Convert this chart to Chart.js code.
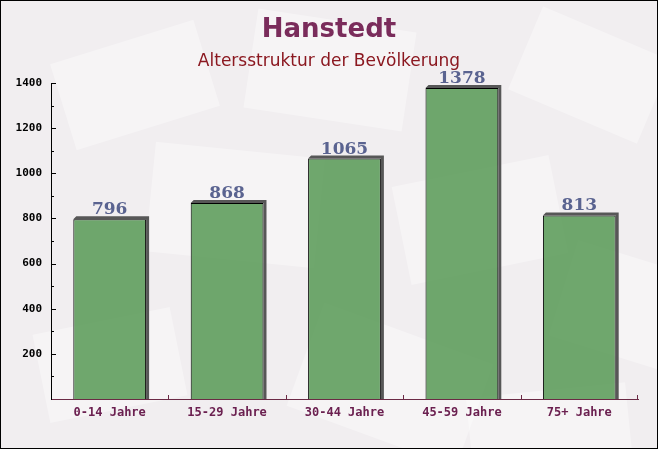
<!DOCTYPE html>
<html>
<head>
<meta charset="utf-8">
<script src="https://cdn.jsdelivr.net/npm/chart.js@4/dist/chart.umd.min.js"></script>
<style>
  html, body { margin: 0; padding: 0; background: #f2eff1; }
  #wrap { width: 658px; height: 449px; }
</style>
</head>
<body>
<div id="wrap"><canvas id="ageChart" width="658" height="449"></canvas></div>
<script>
const titleText = 'Hanstedt';
const subtitleText = 'Altersstruktur der Bevölkerung';
const categories = ['0-14 Jahre', '15-29 Jahre', '30-44 Jahre', '45-59 Jahre', '75+ Jahre'];
const population = [796, 868, 1065, 1378, 813];
const yTicks = [200, 400, 600, 800, 1000, 1200, 1400];

// background with a few faint paper shapes
const backdrop = {
  id: 'backdrop',
  beforeDraw(chart) {
    const ctx = chart.ctx;
    ctx.save();
    ctx.fillStyle = '#f1eef0';
    ctx.fillRect(0, 0, chart.width, chart.height);
    const sheets = [
      [60, 40, 150, 90, -0.3], [250, 20, 160, 100, 0.15], [520, 30, 140, 90, 0.4],
      [150, 150, 170, 110, 0.1], [400, 170, 160, 100, -0.2], [560, 260, 150, 100, 0.3],
      [40, 320, 140, 90, -0.2], [300, 330, 180, 110, 0.35], [470, 390, 160, 90, -0.1]
    ];
    ctx.fillStyle = 'rgba(255,255,255,0.35)';
    sheets.forEach(([x, y, w, h, r]) => {
      ctx.save();
      ctx.translate(x + w / 2, y + h / 2);
      ctx.rotate(r);
      ctx.fillRect(-w / 2, -h / 2, w, h);
      ctx.restore();
    });
    ctx.restore();
  }
};

// shadows behind bars, tick marks, labels, titles, frame
const decorations = {
  id: 'decorations',
  beforeDatasetsDraw(chart) {
    const ctx = chart.ctx;
    const meta = chart.getDatasetMeta(0);
    ctx.save();
    ctx.fillStyle = '#575757';
    meta.data.forEach(bar => {
      const l = bar.x - bar.width / 2, r = bar.x + bar.width / 2;
      // only the strips that stick out above and to the right of the bar
      ctx.beginPath();
      ctx.moveTo(l, bar.y);
      ctx.lineTo(l + 3, bar.y - 3);
      ctx.lineTo(r + 3, bar.y - 3);
      ctx.lineTo(r + 3, bar.base);
      ctx.lineTo(r, bar.base);
      ctx.lineTo(r, bar.y);
      ctx.closePath();
      ctx.fill();
    });
    ctx.restore();
  },
  afterDatasetsDraw(chart) {
    const ctx = chart.ctx;
    const area = chart.chartArea;
    const y = chart.scales.y;
    const x = chart.scales.x;
    const meta = chart.getDatasetMeta(0);
    ctx.save();

    // y axis ticks pointing inward
    ctx.strokeStyle = '#000';
    ctx.lineWidth = 1;
    for (let v = 100; v <= 1400; v += 100) {
      const py = Math.round(y.getPixelForValue(v)) + 0.5;
      const len = v % 200 === 0 ? 5 : 3;
      ctx.beginPath();
      ctx.moveTo(area.left, py);
      ctx.lineTo(area.left + len, py);
      ctx.stroke();
    }

    // x axis ticks between categories, pointing up
    ctx.strokeStyle = '#6b2a45';
    for (let i = 1; i <= categories.length; i++) {
      const px = Math.round((x.getPixelForValue(i - 1) + x.getPixelForValue(i)) / 2) + 0.5;
      const pxx = i === categories.length ? area.right - 0.5 : px;
      ctx.beginPath();
      ctx.moveTo(pxx, area.bottom);
      ctx.lineTo(pxx, area.bottom - 4);
      ctx.stroke();
    }

    // value labels
    ctx.fillStyle = '#5a6390';
    ctx.font = 'bold 17px "DejaVu Serif"';
    ctx.textAlign = 'center';
    ctx.textBaseline = 'alphabetic';
    meta.data.forEach((bar, i) => {
      ctx.fillText(String(population[i]), bar.x, bar.y - 5);
    });

    // titles
    ctx.fillStyle = '#7a2c5b';
    ctx.font = 'bold 26px "DejaVu Sans"';
    ctx.textBaseline = 'middle';
    ctx.fillText(titleText, chart.width / 2, 30);
    ctx.fillStyle = '#8b1820';
    ctx.font = '17px "DejaVu Sans"';
    ctx.fillText(subtitleText, chart.width / 2, 62);

    // frame
    ctx.strokeStyle = '#000';
    ctx.strokeRect(0.5, 0.5, chart.width - 1, chart.height - 1);
    ctx.restore();
  }
};

new Chart(document.getElementById('ageChart'), {
  type: 'bar',
  data: {
    labels: categories,
    datasets: [{
      data: population,
      backgroundColor: 'rgba(100,160,98,0.93)',
      borderColor: '#000',
      borderWidth: { top: 1, left: 1, right: 1, bottom: 0 },
      borderSkipped: 'bottom',
      categoryPercentage: 0.62,
      barPercentage: 1
    }]
  },
  options: {
    responsive: false,
    animation: false,
    layout: { padding: { top: 83, right: 20, left: 0, bottom: 0 } },
    plugins: {
      legend: { display: false },
      tooltip: { enabled: false },
      title: { display: false }
    },
    scales: {
      x: {
        grid: { display: false, drawTicks: false },
        border: { color: '#6b2a45', width: 1 },
        ticks: {
          color: '#6b2050',
          font: { family: '"DejaVu Sans Mono"', size: 12, weight: 'bold' },
          padding: 7
        },
        afterFit(scale) { scale.height = 50; }
      },
      y: {
        min: 0,
        max: 1400,
        afterBuildTicks(scale) { scale.ticks = yTicks.map(v => ({ value: v })); },
        grid: { display: false, drawTicks: false },
        border: { color: '#000', width: 1 },
        ticks: {
          color: '#000',
          font: { family: '"DejaVu Sans Mono"', size: 11, weight: 'bold' },
          padding: 9,
          callback: v => String(v)
        },
        afterFit(scale) { scale.width = 51; }
      }
    }
  },
  plugins: [backdrop, decorations]
});
</script>
</body>
</html>
